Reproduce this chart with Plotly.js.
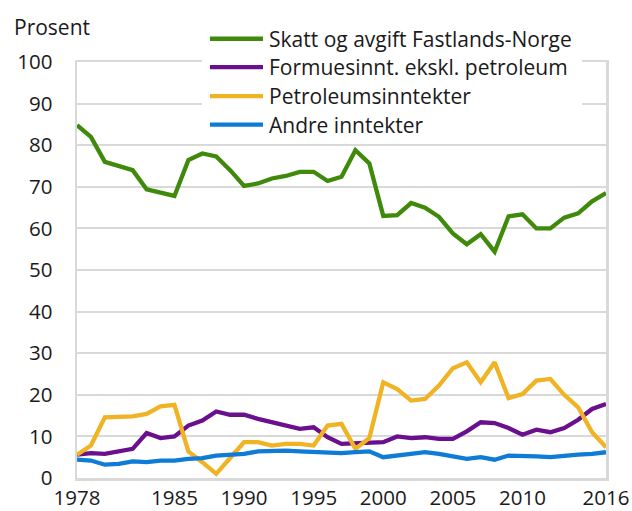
<!DOCTYPE html>
<html>
<head>
<meta charset="utf-8">
<script src="https://cdn.plot.ly/plotly-3.0.1.min.js"></script>
<style>html,body{margin:0;padding:0;background:#fff;}#chart{width:632px;height:511px;}</style>
</head>
<body>
<div id="chart"></div>
<script>
const years = [];
for (let y = 1978; y <= 2016; y++) years.push(y);

const skatt = [84.8,82.0,76.0,75.0,74.0,69.4,68.6,67.8,76.4,78.0,77.3,74.0,70.2,70.8,72.0,72.6,73.6,73.6,71.4,72.4,78.8,75.6,63.0,63.2,66.1,65.0,62.8,58.8,56.2,58.6,54.4,62.9,63.4,60.0,60.0,62.6,63.6,66.5,68.5];
const formue = [5.6,6.0,5.8,6.4,7.0,10.8,9.6,10.0,12.6,13.8,16.0,15.2,15.2,14.2,13.4,12.8,11.8,12.2,9.8,8.2,8.4,8.4,8.6,10.0,9.6,9.8,9.4,9.4,11.2,13.4,13.2,12.0,10.4,11.6,11.0,12.0,14.0,16.6,17.8];
const petro = [5.6,7.8,14.6,14.6,14.8,15.4,17.2,17.6,6.4,3.8,1.0,4.8,8.6,8.6,7.8,8.2,8.2,7.8,12.6,13.0,7.0,9.6,23.0,21.4,18.6,19.0,22.2,26.4,27.8,23.0,27.8,19.2,20.2,23.4,23.8,20.0,17.0,11.0,7.4];
const andre = [4.4,4.2,3.2,3.4,4.0,3.8,4.2,4.2,4.6,4.8,5.4,5.6,5.8,6.4,6.6,6.6,6.4,6.2,6.2,6.0,6.2,6.4,5.0,5.4,5.6,6.2,5.8,5.2,4.6,5.0,4.4,5.4,5.4,5.2,5.0,5.4,5.6,5.8,6.2];

const seriesNames = ["Skatt og avgift Fastlands-Norge","Formuesinnt. ekskl. petroleum","Petroleumsinntekter","Andre inntekter"];
const seriesColors = ["#3f8a0a","#6a0f8e","#f0b323","#0e7bd6"];
const xTickVals = [1978,1985,1990,1995,2000,2005,2010,2016];
const yTickVals = [0,10,20,30,40,50,60,70,80,90,100];

const data = [skatt, formue, petro, andre].map((vals, i) => ({
  x: years, y: vals, type: 'scatter', mode: 'lines', name: seriesNames[i],
  line: {color: seriesColors[i], width: 4.3}
}));

// Legend drawn as layout items (paper coordinates)
const legRowY = [1.0559, 0.9878, 0.9182, 0.8495];
const shapes = [{type: 'rect', xref: 'paper', yref: 'paper', x0: 0.2363, x1: 0.9546, y0: 0.824, y1: 1.16,
                 fillcolor: '#ffffff', line: {width: 0}, layer: 'above'}];
const annotations = [{text: 'Prosent', xref: 'paper', yref: 'paper', x: -0.123, y: 1.083,
                      xanchor: 'left', yanchor: 'middle', showarrow: false, font: {size: 21}}];
seriesNames.forEach((nm, i) => {
  shapes.push({type: 'line', xref: 'paper', yref: 'paper', x0: 0.2514, x1: 0.3516, y0: legRowY[i], y1: legRowY[i],
               line: {color: seriesColors[i], width: 4.3}, layer: 'above'});
  annotations.push({text: nm, xref: 'paper', yref: 'paper', x: 0.3592, y: legRowY[i],
                    xanchor: 'left', yanchor: 'middle', showarrow: false, font: {size: 21}});
});

const layout = {
  width: 632, height: 511,
  margin: {l: 77, r: 26, t: 62, b: 33},
  paper_bgcolor: '#fff', plot_bgcolor: '#fff',
  font: {family: '"Open Sans", sans-serif', size: 20.5, color: '#1a1a1a'},
  showlegend: false,
  xaxis: {range: [1978, 2016], tickvals: xTickVals, ticktext: xTickVals.map(String),
          showgrid: false, zeroline: false, showline: true, linecolor: '#d9d9d9', linewidth: 2.5,
          mirror: true, ticks: '', tickfont: {size: 20.5}},
  yaxis: {range: [0, 100], tickvals: yTickVals, showgrid: true, gridcolor: '#d9d9d9', gridwidth: 2,
          zeroline: false, showline: true, linecolor: '#d9d9d9', linewidth: 2.5, mirror: true,
          ticks: '', tickfont: {size: 20.5}, ticklabelstandoff: 18},
  shapes: shapes,
  annotations: annotations
};

Plotly.newPlot('chart', data, layout, {displayModeBar: false, staticPlot: true});
</script>
</body>
</html>
